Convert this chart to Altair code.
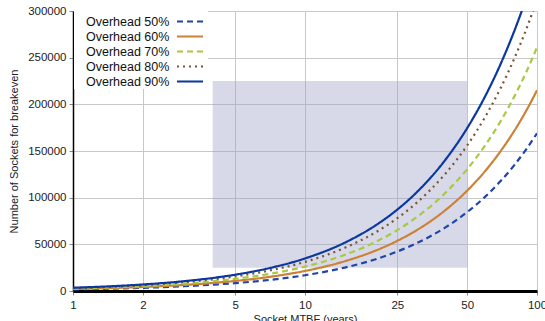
import altair as alt
import pandas as pd

# MTBF sample points (years)
mtbf = [1, 1.5, 2, 3, 4, 5, 7, 10, 15, 20, 25, 30, 40, 50, 60, 70, 80, 90, 100]

oh50 = [1690, 2540, 3380, 5070, 6760, 8450, 11830, 16900, 25350, 33800, 42250, 50700, 67600, 84500, 101400, 118300, 135200, 152100, 169000]
oh60 = [2150, 3230, 4300, 6450, 8600, 10750, 15050, 21500, 32250, 43000, 53750, 64500, 86000, 107500, 129000, 150500, 172000, 193500, 215000]
oh70 = [2610, 3920, 5220, 7830, 10440, 13050, 18270, 26100, 39150, 52200, 65250, 78300, 104400, 130500, 156600, 182700, 208800, 234900, 261000]
oh80 = [3120, 4680, 6240, 9360, 12480, 15600, 21840, 31200, 46800, 62400, 78000, 93600, 124800, 156000, 187200, 218400, 249600, 280800, 312000]
oh90 = [3490, 5240, 6980, 10470, 13960, 17450, 24430, 34900, 52350, 69800, 87250, 104700, 139600, 174500, 209400, 244300, 279200, 314100, 349000]

series_names = ["Overhead 50%", "Overhead 60%", "Overhead 70%", "Overhead 80%", "Overhead 90%"]
series_vals = [oh50, oh60, oh70, oh80, oh90]
series_colors = ["#1f45a8", "#cc8136", "#a9c940", "#7a5433", "#0a37a0"]
series_dash = [[6, 4], [1, 0], [6, 4], [2, 4], [1, 0]]

# shaded region
region = pd.DataFrame({"x1": [4], "x2": [50], "y1": [25000], "y2": [225000]})

x_ticks = [1, 2, 5, 10, 25, 50, 100]

xscale = alt.Scale(type="log", domain=[1, 100])
yscale = alt.Scale(domain=[0, 300000])

xaxis = alt.Axis(values=x_ticks, format="~g", title="Socket MTBF (years)",
                 labelFontSize=11.5, titleFontSize=11, titleFontWeight="normal",
                 domainColor="black", domainWidth=3, tickColor="#888", tickSize=4,
                 gridColor="#c8c8c8", labelColor="#222", titleColor="#222",
                 labelPadding=4, titlePadding=3, labelFlush=False)
yaxis = alt.Axis(values=list(range(0, 300001, 50000)), format="d",
                 title="Number of Sockets for breakeven",
                 labelFontSize=11.5, titleFontSize=11, titleFontWeight="normal",
                 domainColor="black", domainWidth=1.5, tickColor="#888", tickSize=4,
                 gridColor="#c8c8c8", labelColor="#222", titleColor="#222",
                 labelPadding=3, titlePadding=8)

rect = alt.Chart(region).mark_rect(color="#9aa0c8", opacity=0.4).encode(
    x=alt.X("x1:Q", scale=xscale, axis=xaxis),
    x2="x2:Q",
    y=alt.Y("y1:Q", scale=yscale, axis=yaxis),
    y2="y2:Q",
)

layers = [rect]
for name, vals, col, dash in zip(series_names, series_vals, series_colors, series_dash):
    df = pd.DataFrame({"mtbf": mtbf, "n": vals, "s": name})
    layers.append(
        alt.Chart(df).mark_line(color=col, strokeDash=dash, strokeWidth=2.2,
                                interpolate="monotone", clip=True).encode(
            x=alt.X("mtbf:Q", scale=xscale),
            y=alt.Y("n:Q", scale=yscale),
        )
    )

# legend background
layers.append(
    alt.Chart(pd.DataFrame({"a": [0]})).mark_rect(color="white").encode(
        x=alt.value(1), x2=alt.value(135), y=alt.value(0), y2=alt.value(78)
    )
)
for i, (name, col, dash) in enumerate(zip(series_names, series_colors, series_dash)):
    yy = 10.5 + 15 * i
    layers.append(
        alt.Chart(pd.DataFrame({"t": [name]})).mark_text(
            align="left", baseline="middle", fontSize=12.5, font="Liberation Sans", color="#111"
        ).encode(x=alt.value(13), y=alt.value(yy), text="t:N")
    )
    layers.append(
        alt.Chart(pd.DataFrame({"t": [name]})).mark_rule(
            color=col, strokeDash=dash, strokeWidth=2.2
        ).encode(x=alt.value(104), x2=alt.value(130), y=alt.value(yy))
    )

chart = alt.layer(*layers).properties(
    width=464, height=280,
    autosize=alt.AutoSizeParams(type="none"),
    padding={"left": 73, "top": 11, "right": 8, "bottom": 30},
).configure_view(stroke=None).configure(font="Liberation Sans")

chart.save("out.html", embed_options={"renderer": "svg", "actions": False})
